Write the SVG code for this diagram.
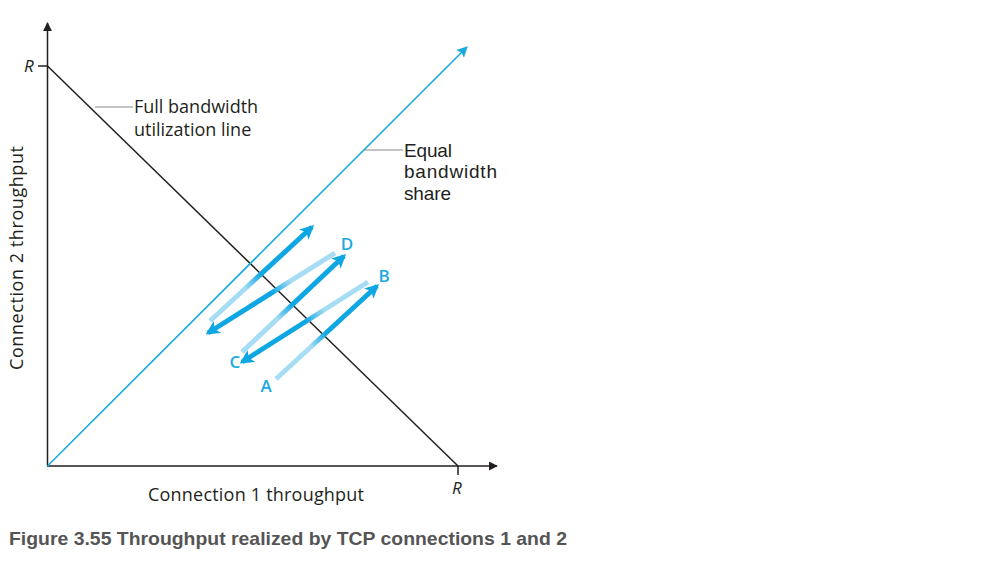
<svg xmlns="http://www.w3.org/2000/svg" width="983" height="567" viewBox="0 0 983 567">
<style>
.ax{stroke:#231f20;stroke-width:1.5;fill:none}
.lead{stroke:#8a8a8a;stroke-width:1.2;fill:none}
.lbl{font-family:"Open Sans","Liberation Sans",sans-serif;font-size:18px;fill:#231f20}
.lbl2{font-family:"Liberation Sans",Arial,sans-serif;font-size:19px;fill:#231f20}
.pt{font-family:"Open Sans","Liberation Sans",sans-serif;font-size:17px;font-weight:600;fill:#1aa9e1}
.it{font-family:"Open Sans","Liberation Sans",sans-serif;font-size:17px;font-style:italic;fill:#231f20}
.cap{font-family:"Liberation Sans",Arial,sans-serif;font-size:19px;font-weight:bold;fill:#555555}
.arr{stroke-width:5;fill:none;stroke-linecap:butt}
</style>
<defs>
<marker id="ah" viewBox="0 0 10 10" refX="8" refY="5" markerWidth="2.8" markerHeight="2.8" orient="auto" markerUnits="strokeWidth">
<path d="M0,0 L10,5 L0,10 L2.5,5 z" fill="#0fa7e3"/>
</marker>
<marker id="ahk" viewBox="0 0 10 10" refX="9" refY="5" markerWidth="9" markerHeight="9" orient="auto" markerUnits="userSpaceOnUse">
<path d="M0,0 L10,5 L0,10 z" fill="#231f20"/>
</marker>
<marker id="ahb" viewBox="0 0 10 10" refX="9" refY="5" markerWidth="11" markerHeight="11" orient="auto" markerUnits="userSpaceOnUse">
<path d="M0,0 L10,5 L0,10 L2,5 z" fill="#1aa9e1"/>
</marker>
<linearGradient id="g1" gradientUnits="userSpaceOnUse" x1="276" y1="379" x2="376" y2="287"><stop offset="0" stop-color="#a6dcf4"/><stop offset="0.35" stop-color="#a6dcf4"/><stop offset="0.5" stop-color="#0fa7e3"/><stop offset="1" stop-color="#0fa7e3"/></linearGradient>
<linearGradient id="g2" gradientUnits="userSpaceOnUse" x1="368" y1="282" x2="243" y2="361"><stop offset="0" stop-color="#a6dcf4"/><stop offset="0.35" stop-color="#a6dcf4"/><stop offset="0.5" stop-color="#0fa7e3"/><stop offset="1" stop-color="#0fa7e3"/></linearGradient>
<linearGradient id="g3" gradientUnits="userSpaceOnUse" x1="242" y1="352" x2="343" y2="257"><stop offset="0" stop-color="#a6dcf4"/><stop offset="0.35" stop-color="#a6dcf4"/><stop offset="0.5" stop-color="#0fa7e3"/><stop offset="1" stop-color="#0fa7e3"/></linearGradient>
<linearGradient id="g4" gradientUnits="userSpaceOnUse" x1="335" y1="253" x2="209" y2="332"><stop offset="0" stop-color="#a6dcf4"/><stop offset="0.35" stop-color="#a6dcf4"/><stop offset="0.5" stop-color="#0fa7e3"/><stop offset="1" stop-color="#0fa7e3"/></linearGradient>
<linearGradient id="g5" gradientUnits="userSpaceOnUse" x1="210" y1="321" x2="311" y2="228"><stop offset="0" stop-color="#a6dcf4"/><stop offset="0.35" stop-color="#a6dcf4"/><stop offset="0.5" stop-color="#0fa7e3"/><stop offset="1" stop-color="#0fa7e3"/></linearGradient>
</defs>
<rect width="983" height="567" fill="#ffffff"/>
<g id="axes">
<line class="ax" x1="47.5" y1="466" x2="47.5" y2="23" marker-end="url(#ahk)"/>
<line class="ax" x1="47" y1="466" x2="497" y2="466" marker-end="url(#ahk)"/>
<line class="ax" x1="38" y1="66" x2="47.5" y2="66"/>
<line class="ax" x1="458" y1="466" x2="458" y2="475"/>
<text class="it" x="24" y="72">R</text>
<text class="it" x="452" y="494">R</text>
<text class="lbl" x="256" y="501" text-anchor="middle" textLength="216">Connection 1 throughput</text>
<text class="lbl" transform="translate(23,258) rotate(-90)" text-anchor="middle" textLength="224">Connection 2 throughput</text>
</g>
<g id="full-bandwidth-line">
<line x1="47.5" y1="66" x2="458" y2="466" stroke="#231f20" stroke-width="1.5"/>
<line class="lead" x1="95" y1="107" x2="133" y2="107"/>
<text class="lbl" x="134" y="113">Full bandwidth</text>
<text class="lbl" x="134" y="136">utilization line</text>
</g>
<g id="equal-share-line">
<line x1="47.5" y1="466" x2="467" y2="47" stroke="#1aa9e1" stroke-width="1.6" marker-end="url(#ahb)"/>
<line class="lead" x1="364" y1="150" x2="403" y2="150"/>
<text class="lbl2" x="404" y="156.5" textLength="48">Equal</text>
<text class="lbl2" x="404" y="178" textLength="93">bandwidth</text>
<text class="lbl2" x="404" y="199.5" textLength="47">share</text>
</g>
<g id="connectors">
<line class="arr" x1="276" y1="379" x2="377" y2="286" stroke="url(#g1)" marker-end="url(#ah)"/>
<line class="arr" x1="368" y1="282" x2="242" y2="362" stroke="url(#g2)" marker-end="url(#ah)"/>
<line class="arr" x1="242" y1="352" x2="344" y2="256" stroke="url(#g3)" marker-end="url(#ah)"/>
<line class="arr" x1="335" y1="253" x2="208" y2="333" stroke="url(#g4)" marker-end="url(#ah)"/>
<line class="arr" x1="210" y1="321" x2="312" y2="227" stroke="url(#g5)" marker-end="url(#ah)"/>
</g>
<g id="point-A"><text class="pt" x="266" y="392" text-anchor="middle">A</text></g>
<g id="point-B"><text class="pt" x="384" y="282" text-anchor="middle">B</text></g>
<g id="point-C"><text class="pt" x="235" y="368" text-anchor="middle">C</text></g>
<g id="point-D"><text class="pt" x="347" y="250" text-anchor="middle">D</text></g>
<g id="caption"><text class="cap" x="9" y="545" textLength="558" lengthAdjust="spacingAndGlyphs">Figure 3.55 Throughput realized by TCP connections 1 and 2</text></g>
</svg>
